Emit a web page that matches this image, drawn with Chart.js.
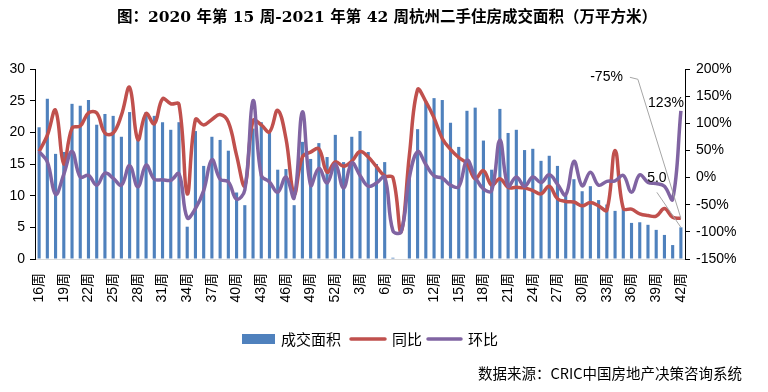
<!DOCTYPE html>
<html lang="zh">
<head>
<meta charset="UTF-8">
<title>杭州二手住房成交面积</title>
<script src="https://cdn.jsdelivr.net/npm/chart.js"></script>
<style>
  body { margin: 0; background: #fff; }
  #wrap { width: 768px; height: 392px; position: relative; }
</style>
</head>
<body>
<div id="wrap"><canvas id="chart"></canvas></div>
<script>
// 2020 第16周 - 2021 第42周
const weeks = [
  '16周','17周','18周','19周','20周','21周','22周','23周','24周','25周','26周','27周','28周','29周','30周','31周',
  '32周','33周','34周','35周','36周','37周','38周','39周','40周','41周','42周','43周','44周','45周','46周','47周',
  '48周','49周','50周','51周','52周',
  '1周','2周','3周','4周','5周','6周','7周','8周','9周','10周','11周','12周','13周','14周','15周','16周',
  '17周','18周','19周','20周','21周','22周','23周','24周','25周','26周','27周','28周','29周','30周','31周','32周',
  '33周','34周','35周','36周','37周','38周','39周','40周','41周','42周'
];

// 成交面积（万平方米）
const area = [
  20.8, 25.3, 16.6, 16.9, 24.5, 24.2, 25.1, 21.2, 22.9, 22.6, 19.3, 23.2, 18.9, 23.2, 22.6, 21.6,
  20.4, 21.6, 5.1, 20.2, 14.7, 19.3, 18.8, 17.1, 10.5, 8.5, 20.6, 21.6, 20.1, 14.1, 14.2, 8.5,
  18.5, 15.8, 18.3, 16.1, 19.6,
  15.3, 19.3, 20.2, 16.9, 15.0, 15.3, 0.2, 0, 13.9, 20.5, 24.9, 25.4, 25.1, 21.5, 17.7, 23.4,
  23.9, 18.7, 14.1, 23.7, 19.9, 20.4, 17.2, 17.4, 15.5, 16.3, 14.7, 10.0, 12.6, 10.7, 11.5, 9.3,
  8.6, 7.6, 7.9, 5.7, 5.8, 5.4, 4.6, 3.8, 2.2, 5.0
];

// 同比（%）
const yoy = [
  48, 78, 124, 25, 91, 95, 119, 119, 82, 82, 115, 166, 70, 118, 99, 145,
  136, 135, -30, 107, 97, 107, 116, 102, 41, -15, 105, 97, 84, 124, 72, -30,
  38, 47, 53, 10, 29,
  21, 30, 48, 38, 20, 3, 0, -100, 41, 162, 140, 110, 72, 52, 37, 26,
  -2, 13, -14, -2, -18, -18, -19, -24, -30, -16, -39, -44, -45, -52, -46, -52,
  -60, 50, -57, -58, -67, -70, -71, -57, -73, -75
];

// 环比（%）
const mom = [
  48, 29, -31, 6, 48, 1, 4, -14, 8, -1, -14, 22, -17, 23, -3, -4,
  -5, 7, -74, -57, -24, 33, -3, -8, -40, -23, 142, 4, -8, -27, 1, -37,
  121, -14, 17, -10, 25,
  -19, 27, 4, -16, -10, 1, -98, -100, 0, 48, 24, 3, -1, -14, -17, 32,
  1, -21, -24, 69, -16, 1, -16, 1, -9, 5, -12, -32, 30, -15, 10, -14,
  -7, -6, 4, -27, 5, -9, -11, -16, -40, 123
];

const leftTicks = [0, 5, 10, 15, 20, 25, 30];
const rightTicks = [-150, -100, -50, 0, 50, 100, 150, 200];

const titleText = '图：2020 年第 15 周-2021 年第 42 周杭州二手住房成交面积（万平方米）';
const sourceText = '数据来源：CRIC中国房地产决策咨询系统';

const BLUE = '#4F81BD', RED = '#C0504D', PURPLE = '#8064A2';
const NUM_FONT = "'Liberation Sans', 'Noto Sans CJK SC', sans-serif";
const CJK_FONT = "'Noto Sans CJK SC', sans-serif";

Chart.defaults.color = '#000';
Chart.defaults.font.family = NUM_FONT;

// 标题、图例、来源、末点标签
const decor = {
  id: 'decor',
  afterDraw(chart) {
    const ctx = chart.ctx;
    const x = chart.scales.x, y = chart.scales.y, y1 = chart.scales.y1;
    ctx.save();

    ctx.fillStyle = '#000';
    ctx.textAlign = 'center';
    ctx.textBaseline = 'middle';
    ctx.font = "bold 15.5px 'DejaVu Serif', 'Noto Sans CJK SC', serif";
    ctx.fillText(titleText, 387, 18);

    // 图例
    ctx.font = '15px ' + CJK_FONT;
    ctx.textAlign = 'left';
    ctx.fillStyle = BLUE;
    ctx.fillRect(242, 334, 33, 10);
    ctx.fillStyle = '#000';
    ctx.fillText('成交面积', 281, 339);
    ctx.lineWidth = 3.5;
    ctx.lineCap = 'round';
    ctx.strokeStyle = RED;
    ctx.beginPath(); ctx.moveTo(351, 339); ctx.lineTo(385, 339); ctx.stroke();
    ctx.fillText('同比', 392, 339);
    ctx.strokeStyle = PURPLE;
    ctx.beginPath(); ctx.moveTo(428, 339); ctx.lineTo(461, 339); ctx.stroke();
    ctx.fillText('环比', 468, 339);

    // 来源
    ctx.font = '14.5px ' + CJK_FONT;
    ctx.textAlign = 'right';
    ctx.fillText(sourceText, 742, 373);

    // 最后一周的数据标签
    const last = weeks.length - 1;
    const px = x.getPixelForValue(last);
    const pr = y1.getPixelForValue(yoy[last]);
    const pm = y1.getPixelForValue(mom[last]);
    const pb = y.getPixelForValue(area[last]);

    ctx.strokeStyle = '#A6A6A6';
    ctx.lineWidth = 1;
    ctx.lineCap = 'butt';
    ctx.beginPath();
    ctx.moveTo(px - 51, pr - 141);
    ctx.lineTo(px - 43, pr - 139);
    ctx.lineTo(px, pr);
    ctx.stroke();
    ctx.beginPath();
    ctx.moveTo(px - 24, pb - 35);
    ctx.lineTo(px, pb);
    ctx.stroke();

    ctx.font = '14px ' + NUM_FONT;
    ctx.fillStyle = '#000';
    ctx.textAlign = 'right';
    ctx.fillText(yoy[last] + '%', px - 58, pr - 141);
    ctx.fillText(mom[last] + '%', px + 3, pm - 8);
    ctx.textAlign = 'center';
    ctx.fillText(area[last].toFixed(1), px - 24, pb - 49);
    ctx.restore();
  }
};

new Chart(document.getElementById('chart'), {
  data: {
    labels: weeks,
    datasets: [
      {
        type: 'line', label: '环比', data: mom, yAxisID: 'y1',
        borderColor: PURPLE, borderWidth: 3.5, pointRadius: 0, tension: 0.4, order: 1
      },
      {
        type: 'line', label: '同比', data: yoy, yAxisID: 'y1',
        borderColor: RED, borderWidth: 3.5, pointRadius: 0, tension: 0.4, order: 2
      },
      {
        type: 'bar', label: '成交面积', data: area, yAxisID: 'y',
        backgroundColor: BLUE, barPercentage: 0.38, categoryPercentage: 1, order: 3
      }
    ]
  },
  options: {
    responsive: true,
    maintainAspectRatio: false,
    animation: false,
    layout: { padding: { top: 69, left: 0, right: 0, bottom: 0 } },
    plugins: { legend: { display: false }, tooltip: { enabled: false } },
    scales: {
      x: {
        grid: { display: false, drawTicks: false },
        border: { color: '#D9D9D9', width: 1 },
        ticks: {
          autoSkip: false, minRotation: 90, maxRotation: 90, padding: 14,
          font: { size: 14, family: NUM_FONT },
          callback: (v, i) => (i % 3 === 0 ? weeks[i] : '')
        },
        afterFit: s => { s.height = 133; }
      },
      y: {
        position: 'left', min: 0, max: 30,
        grid: { drawOnChartArea: false, color: '#000', tickLength: 5 },
        border: { color: '#000', width: 1 },
        ticks: { padding: 5, font: { size: 14 } },
        afterBuildTicks: s => { s.ticks = leftTicks.map(v => ({ value: v })); },
        afterFit: s => { s.width = 35; }
      },
      y1: {
        position: 'right', min: -150, max: 200,
        grid: { drawOnChartArea: false, color: '#000', tickLength: 5 },
        border: { color: '#000', width: 1 },
        ticks: { padding: 6, font: { size: 14 }, callback: v => v + '%' },
        afterBuildTicks: s => { s.ticks = rightTicks.map(v => ({ value: v })); },
        afterFit: s => { s.width = 83; }
      }
    }
  },
  plugins: [decor]
});
</script>
</body>
</html>
